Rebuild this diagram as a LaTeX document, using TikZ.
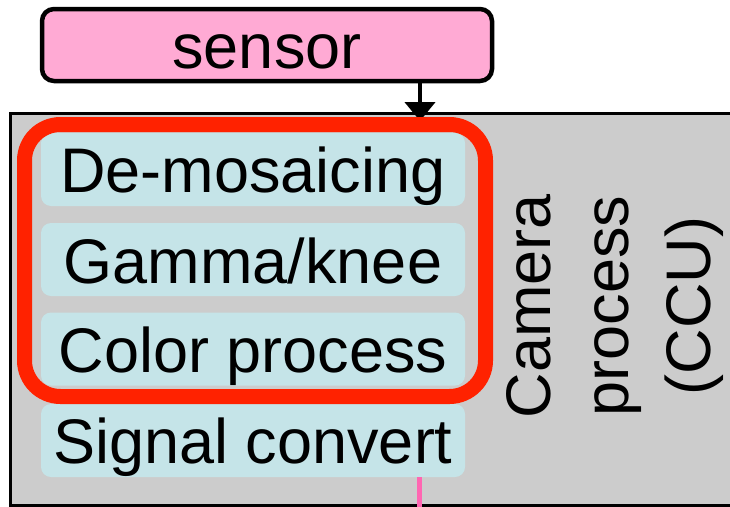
\documentclass[tikz,border=0pt]{standalone}
\usepackage{fontspec}
\setmainfont{Liberation Sans}
\usetikzlibrary{arrows.meta}
\definecolor{sensorpink}{RGB}{255,170,212}
\definecolor{stagecyan}{RGB}{197,228,232}
\definecolor{ccugray}{RGB}{204,204,204}
\definecolor{framered}{RGB}{255,34,0}
\definecolor{outpink}{RGB}{255,102,178}
\tikzset{
  bigtext/.style={font=\fontsize{63}{75}\selectfont},
  sensorbox/.style={draw=black, line width=4.5pt, fill=sensorpink, rounded corners=12pt,
    minimum width=450pt, minimum height=72pt, inner sep=0pt},
  stagebox/.style={fill=stagecyan, rounded corners=10pt, minimum width=424pt,
    minimum height=73pt, inner sep=0pt},
  stagelabel/.style={bigtext, anchor=base, inner sep=0pt},
  sidelabel/.style={bigtext, anchor=base, rotate=90, inner sep=0pt},
  feed/.style={line width=4.5pt, -{Triangle[width=30pt,length=19pt]}},
  outline/.style={draw=outpink, line width=5pt},
}
\begin{document}
\begin{tikzpicture}[x=1pt, y=-1pt]
\useasboundingbox (0,0) rectangle (730,506);
\clip (0,0) rectangle (730,506);

% camera control unit body
\draw[line width=3pt, fill=ccugray] (10.8,113.5) rectangle (760,505);

% sensor block and its feed into the CCU
\node[sensorbox] (sensor) at (267,45) {};
\node[bigtext, anchor=base, inner sep=0pt] (sensortxt) at (267,68) {sensor};
\coordinate (tap) at (420,121);
\draw[feed] (sensor.south -| tap) -- (tap);

% processing stages
\node[stagebox] (demo) at (253,169.5) {};
\node[stagebox] (gamma) at (253,259.5) {};
\node[stagebox] (color) at (253,349) {};
\node[stagebox] (sig) at (253,440.5) {};
\node[stagelabel] (demotxt) at (253,192) {De-mosaicing};
\node[stagelabel] (gammatxt) at (253,283) {Gamma/knee};
\node[stagelabel] (colortxt) at (253,372) {Color process};
\node[stagelabel] (sigtxt) at (253,463) {Signal convert};

% highlight around the first three stages
\draw[framered, line width=15pt, rounded corners=36pt] (24.5,124.5) rectangle (485.5,396.5);

% output line
\coordinate (out) at (419.5,510);
\draw[outline] (sig.south -| out) -- (out);

% side caption
\node[sidelabel] (cap1) at (550,306) {Camera};
\node[sidelabel] (cap2) at (628,306) {process};
\node[sidelabel] (cap3) at (710,306) {(CCU)};
\end{tikzpicture}
\end{document}
